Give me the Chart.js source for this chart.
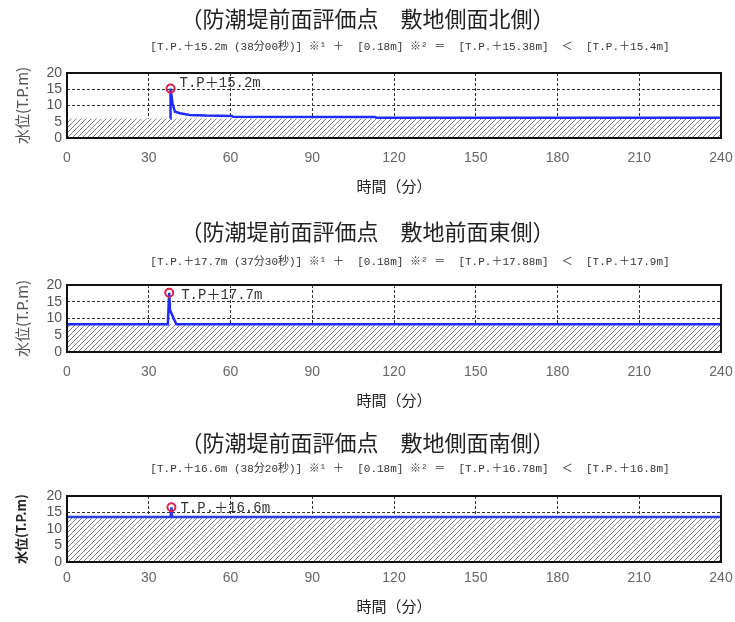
<!DOCTYPE html>
<html>
<head>
<meta charset="utf-8">
<script src="https://cdn.jsdelivr.net/npm/chart.js@4"></script>
<style>
  html, body { margin: 0; padding: 0; background: #fff; }
  .panel { position: relative; width: 735px; }
</style>
</head>
<body>
<div class="panel" style="height:205px"><canvas id="northChart"></canvas></div>
<div class="panel" style="height:210px"><canvas id="eastChart"></canvas></div>
<div class="panel" style="height:207px"><canvas id="southChart"></canvas></div>
<script>
// axes
const xTicks = [0, 30, 60, 90, 120, 150, 180, 210, 240];
const yTicks = [0, 5, 10, 15, 20];

// ground level (hatched area)
const groundTime = [0, 240];
const northGround = [6.0, 6.0];
const eastGround = [8.1, 8.1];
const southGround = [13.4, 13.4];

// water level series (min, T.P.m)
const northTime = [37.9, 38.0, 38.7, 39.6, 41.5, 45, 51, 60.5, 61, 113, 113.5, 240];
const northLevel = [6.0, 15.2, 10.7, 8.1, 7.6, 7.1, 6.9, 6.8, 6.55, 6.5, 6.25, 6.2];
const eastTime = [0, 37.0, 37.5, 37.8, 40.1, 240];
const eastLevel = [8.3, 8.3, 17.7, 12.5, 8.3, 8.3];
const southTime = [0, 38.0, 38.33, 38.6, 240];
const southLevel = [13.6, 13.6, 16.6, 13.6, 13.6];

// max water level points
const peakTime = [38.0, 37.5, 38.33];
const peakLevel = [15.2, 17.7, 16.6];
const peakLabels = ['T.P＋15.2m', 'T.P＋17.7m', 'T.P.＋16.6m'];

const titles = [
  '（防潮堤前面評価点　敷地側面北側）',
  '（防潮堤前面評価点　敷地前面東側）',
  '（防潮堤前面評価点　敷地側面南側）'
];
const subtitles = [
  '[T.P.＋15.2m (38分00秒)] ※¹ ＋  [0.18m] ※² ＝  [T.P.＋15.38m]  ＜  [T.P.＋15.4m]',
  '[T.P.＋17.7m (37分30秒)] ※¹ ＋  [0.18m] ※² ＝  [T.P.＋17.88m]  ＜  [T.P.＋17.9m]',
  '[T.P.＋16.6m (38分20秒)] ※¹ ＋  [0.18m] ※² ＝  [T.P.＋16.78m]  ＜  [T.P.＋16.8m]'
];

function hatch() {
  const c = document.createElement('canvas');
  c.width = 5; c.height = 5;
  const g = c.getContext('2d');
  g.fillStyle = '#fff';
  g.fillRect(0, 0, 5, 5);
  g.strokeStyle = '#808080';
  g.lineWidth = 1;
  g.beginPath();
  g.moveTo(-1, 6); g.lineTo(6, -1);
  g.moveTo(-1, 1); g.lineTo(1, -1);
  g.moveTo(4, 6); g.lineTo(6, 4);
  g.stroke();
  return g.createPattern(c, 'repeat');
}

// box around the plot, label next to the peak marker, formula line under the title
const extras = {
  id: 'extras',
  afterDatasetsDraw(chart, args, opts) {
    const { ctx, chartArea: a, scales: { x, y } } = chart;
    ctx.save();
    ctx.strokeStyle = '#111';
    ctx.lineWidth = 2;
    ctx.strokeRect(a.left, a.top, a.right - a.left, a.bottom - a.top);
    ctx.font = '14px "Liberation Mono", "Noto Sans CJK JP"';
    ctx.fillStyle = '#333';
    ctx.textBaseline = 'middle';
    ctx.fillText(opts.text, x.getPixelForValue(opts.t) + opts.dx, y.getPixelForValue(opts.v) + opts.dy);
    ctx.font = '11px "Liberation Mono", "Noto Sans CJK JP"';
    ctx.textAlign = 'center';
    ctx.fillText(opts.sub, opts.subX, opts.subY);
    ctx.restore();
  }
};

function makePanel(id, i, time, level, ground, o) {
  new Chart(document.getElementById(id), {
    type: 'line',
    data: {
      datasets: [
        {
          data: groundTime.map((t, k) => ({ x: t, y: ground[k] })),
          fill: 'origin',
          backgroundColor: hatch(),
          borderWidth: 0,
          pointRadius: 0,
          order: 3
        },
        {
          data: time.map((t, k) => ({ x: t, y: level[k] })),
          borderColor: o.lineColor,
          borderWidth: 2.5,
          pointRadius: 0,
          fill: false,
          tension: 0,
          order: 2
        },
        {
          data: [{ x: peakTime[i], y: peakLevel[i] }],
          showLine: false,
          pointRadius: 4,
          pointBorderWidth: 2,
          pointBorderColor: '#e0204a',
          pointBackgroundColor: 'rgba(0,0,0,0)',
          order: 1
        }
      ]
    },
    options: {
      responsive: true,
      maintainAspectRatio: false,
      animation: false,
      layout: { padding: { left: 14, right: 14, top: 0, bottom: 0 } },
      plugins: {
        legend: { display: false },
        tooltip: { enabled: false },
        title: {
          display: true,
          text: titles[i],
          color: '#222',
          font: { family: '"Noto Sans CJK JP"', size: 22, weight: 'normal', lineHeight: 1.2 },
          padding: { top: o.tTop, bottom: o.tBot }
        },
        extras: {
          text: peakLabels[i], t: peakTime[i], v: peakLevel[i], dx: o.dx, dy: o.dy,
          sub: subtitles[i], subX: 410, subY: o.subY
        }
      },
      scales: {
        x: {
          type: 'linear',
          min: 0,
          max: 240,
          afterBuildTicks: s => { s.ticks = xTicks.map(v => ({ value: v })); },
          afterFit: s => { s.height = o.xH; s.paddingLeft = 0; s.paddingRight = 0; },
          grid: { color: '#333', lineWidth: 1, drawTicks: false },
          border: { display: false, dash: [3, 2] },
          ticks: { padding: o.xPad, color: '#666', maxRotation: 0, autoSkip: false,
                   font: { family: '"Liberation Sans"', size: 14 } },
          title: { display: true, text: '時間（分）', color: '#222',
                   font: { family: '"Noto Sans CJK JP"', size: 15 },
                   padding: { top: 0, bottom: o.xtPad } }
        },
        y: {
          type: 'linear',
          min: 0,
          max: 20,
          afterBuildTicks: s => { s.ticks = yTicks.map(v => ({ value: v })); },
          afterFit: s => { s.width = 53; s.paddingTop = 0; s.paddingBottom = 0; },
          grid: { color: '#333', lineWidth: 1, drawTicks: false },
          border: { display: false, dash: [3, 2] },
          ticks: { padding: 5, color: '#555', autoSkip: false,
                   font: { family: '"Liberation Sans"', size: 14 } },
          title: { display: true, text: '水位(T.P.m)', color: o.yTitleColor,
                   font: { family: '"Noto Sans CJK JP"', size: o.yTitleSize, weight: o.yTitleWeight },
                   padding: { top: -1, bottom: 0 } }
        }
      }
    },
    plugins: [extras]
  });
}

makePanel('northChart', 0, northTime, northLevel, northGround, {
  tTop: 5.8, tBot: 40.8, subY: 47, xH: 67, xPad: 12, xtPad: 10, dx: 9, dy: -5,
  lineColor: '#1f2cff', yTitleColor: '#555', yTitleSize: 15, yTitleWeight: 'normal'
});
makePanel('eastChart', 1, eastTime, eastLevel, eastGround, {
  tTop: 13.8, tBot: 39.8, subY: 57, xH: 63, xPad: 11.6, xtPad: 6, dx: 12, dy: 3,
  lineColor: '#1f2cff', yTitleColor: '#555', yTitleSize: 15, yTitleWeight: 'normal'
});
makePanel('southChart', 2, southTime, southLevel, southGround, {
  tTop: 14.8, tBot: 39.8, subY: 54, xH: 60, xPad: 7.6, xtPad: 7, dx: 9, dy: 1,
  lineColor: '#2a3fe0', yTitleColor: '#222', yTitleSize: 13, yTitleWeight: 'bold'
});
</script>
</body>
</html>
